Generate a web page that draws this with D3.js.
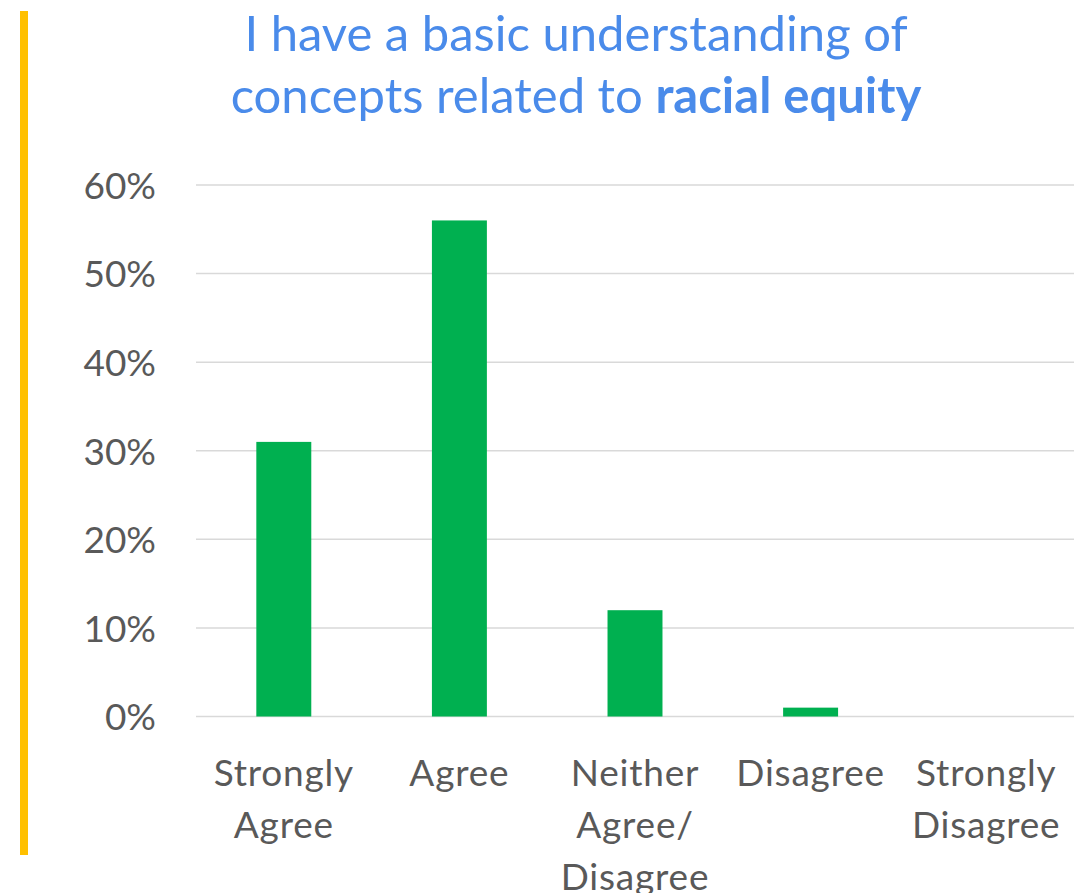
<!DOCTYPE html>
<html>
<head>
<meta charset="utf-8">
<script src="https://cdn.jsdelivr.net/npm/d3@7"></script>
<style>
  html, body { margin: 0; padding: 0; background: #fff; }
  svg { display: block; }
  text { font-family: Lato, "Open Sans", sans-serif; }
</style>
</head>
<body>
<svg id="chart" width="1084" height="893"></svg>
<script>
// Survey responses: share of respondents per answer
const categories = [
  ["Strongly", "Agree"],
  ["Agree"],
  ["Neither", "Agree/", "Disagree"],
  ["Disagree"],
  ["Strongly", "Disagree"]
];
const values = [0.31, 0.56, 0.12, 0.01, 0.00];
const yTicks = [0, 0.1, 0.2, 0.3, 0.4, 0.5, 0.6];
const titleLine1 = "I have a basic understanding of";
const titleLine2Plain = "concepts related to ";
const titleLine2Bold = "racial equity";

const W = 1084, H = 893;
const plot = { left: 196, right: 1074, top: 185, bottom: 716.5 };

const svg = d3.select("#chart");

// accent bar along the left edge
svg.append("rect")
  .attr("x", 20).attr("y", 11)
  .attr("width", 8).attr("height", 844)
  .attr("fill", "#FFC000");

// title
const titleColor = "#4A8BEA";
svg.append("text")
  .attr("x", 576).attr("y", 51)
  .attr("text-anchor", "middle")
  .attr("font-size", 49)
  .attr("fill", titleColor)
  .text(titleLine1);
const t2 = svg.append("text")
  .attr("x", 576).attr("y", 113)
  .attr("text-anchor", "middle")
  .attr("font-size", 49)
  .attr("fill", titleColor);
t2.append("tspan").text(titleLine2Plain);
t2.append("tspan").attr("font-weight", "bold").text(titleLine2Bold);

const keys = categories.map(c => c.join(" "));
const x = d3.scaleBand().domain(keys).range([plot.left, plot.right]).padding(0);
const y = d3.scaleLinear().domain([0, 0.6]).range([plot.bottom, plot.top]);

// gridlines
svg.append("g")
  .selectAll("line")
  .data(yTicks)
  .join("line")
  .attr("x1", plot.left).attr("x2", plot.right)
  .attr("y1", d => y(d)).attr("y2", d => y(d))
  .attr("stroke", "#D9D9D9")
  .attr("stroke-width", 1.5);

// y axis labels
const yAxis = d3.axisLeft(y)
  .tickValues(yTicks)
  .tickFormat(d3.format(".0%"))
  .tickSize(0)
  .tickPadding(0);
const gy = svg.append("g")
  .attr("transform", `translate(156,0)`)
  .call(yAxis);
gy.select(".domain").remove();
gy.selectAll("text")
  .attr("font-size", 37)
  .attr("fill", "#595959")
  .attr("font-family", "Lato, sans-serif")
  .attr("dy", "0.36em");

// bars
const barW = x.bandwidth() * 0.313;
svg.append("g")
  .selectAll("rect")
  .data(values)
  .join("rect")
  .attr("x", (d, i) => x(keys[i]) + (x.bandwidth() - barW) / 2)
  .attr("y", d => y(d))
  .attr("width", barW)
  .attr("height", d => y(0) - y(d))
  .attr("fill", "#00B050");

// category labels
const gx = svg.append("g");
categories.forEach((lines, i) => {
  const t = gx.append("text")
    .attr("text-anchor", "middle")
    .attr("font-size", 37)
    .attr("letter-spacing", 0.8)
    .attr("fill", "#595959");
  lines.forEach((ln, j) => {
    t.append("tspan")
      .attr("x", x(keys[i]) + x.bandwidth() / 2)
      .attr("y", 786 + j * 52)
      .text(ln);
  });
});
</script>
</body>
</html>
